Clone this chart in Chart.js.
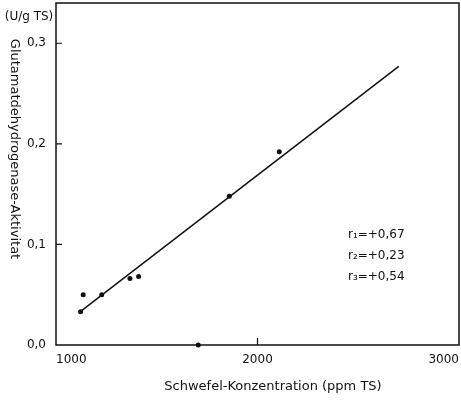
<!DOCTYPE html>
<html><head><meta charset="utf-8">
<script src="https://cdn.jsdelivr.net/npm/chart.js@4"></script>
<style>html,body{margin:0;padding:0;background:#fff}#wrap{width:461px;height:401px}</style>
</head><body><div id="wrap"><canvas id="c" width="461" height="401"></canvas></div>
<script>
// ---- data ----
const sulfurPpm   = [1122, 1135, 1227, 1367, 1410, 1706, 1860, 2108];
const gdhActivity = [0.033, 0.050, 0.050, 0.066, 0.068, 0.000, 0.148, 0.192];
const fitX = [1119, 2701];
const fitY = [0.033, 0.277];
const xTicks = [1000, 2000, 3000];
const yTicks = [0.0, 0.1, 0.2, 0.3];
const rLabels = ['r\u2081=+0,67', 'r\u2082=+0,23', 'r\u2083=+0,54'];
const xTitle = 'Schwefel-Konzentration (ppm TS)';
const yTitle = 'Glutamatdehydrogenase-Aktivitat';
const unitLabel = '(U/g TS)';

const FONT = '"DejaVu Sans", sans-serif';
const INK = '#111';
Chart.defaults.font.family = FONT;
Chart.defaults.font.size = 12;
Chart.defaults.color = INK;

const framePlugin = {
  id: 'frame',
  afterDraw(chart) {
    const {ctx, chartArea: a, scales: {x, y}} = chart;
    ctx.save();
    ctx.strokeStyle = INK;
    ctx.lineWidth = 1.5;
    ctx.strokeRect(a.left, a.top, a.right - a.left, a.bottom - a.top);
    ctx.lineWidth = 1.2;
    ctx.beginPath();
    yTicks.forEach(v => {
      if (v === 0) return;
      const py = y.getPixelForValue(v);
      ctx.moveTo(a.left, py); ctx.lineTo(a.left + 6, py);
    });
    xTicks.forEach(v => {
      const px = x.getPixelForValue(v);
      if (px <= a.left + 1 || px >= a.right - 1) return;
      ctx.moveTo(px, a.bottom); ctx.lineTo(px, a.bottom - 7);
    });
    ctx.stroke();

    ctx.fillStyle = INK;
    ctx.textAlign = 'center';
    ctx.textBaseline = 'middle';
    ctx.font = '13px ' + FONT;
    ctx.fillText(xTitle, a.left + 217, a.bottom + 42);
    ctx.save();
    ctx.translate(a.left - 42, a.top + 146);
    ctx.rotate(Math.PI / 2);
    ctx.fillText(yTitle, 0, 0);
    ctx.restore();
    ctx.font = '12px ' + FONT;
    ctx.fillText(unitLabel, a.left - 27, a.top + 14);
    ctx.textAlign = 'left';
    rLabels.forEach((t, i) => ctx.fillText(t, a.left + 292, a.top + 232 + i * 21));
    ctx.restore();
  }
};

new Chart(document.getElementById('c'), {
  type: 'scatter',
  data: {
    datasets: [
      {
        data: sulfurPpm.map((v, i) => ({x: v, y: gdhActivity[i]})),
        showLine: false,
        pointRadius: 2.5,
        pointBackgroundColor: INK,
        pointBorderWidth: 0,
        clip: false
      },
      {
        data: fitX.map((v, i) => ({x: v, y: fitY[i]})),
        showLine: true,
        borderColor: INK,
        borderWidth: 1.5,
        pointRadius: 0,
        fill: false
      }
    ]
  },
  plugins: [framePlugin],
  options: {
    responsive: false,
    animation: false,
    layout: {autoPadding: false, padding: {top: 3, right: 2, left: 0, bottom: 0}},
    plugins: {legend: {display: false}, tooltip: {enabled: false}},
    scales: {
      x: {
        type: 'linear', min: 1000, max: 3000,
        afterBuildTicks(s) { s.ticks = xTicks.map(v => ({value: v})); },
        afterFit(s) { s.height = 56; s.paddingLeft = 0; s.paddingRight = 0; },
        grid: {display: false, drawTicks: false},
        border: {display: false},
        ticks: {align: 'inner', padding: 8, callback: v => String(v), maxRotation: 0}
      },
      y: {
        type: 'linear', min: 0, max: 0.34,
        afterBuildTicks(s) { s.ticks = yTicks.map(v => ({value: v})); },
        afterFit(s) { s.width = 56; s.paddingTop = 0; s.paddingBottom = 0; },
        grid: {display: false, drawTicks: false},
        border: {display: false},
        ticks: {padding: 10, callback: v => Number(v).toFixed(1).replace('.', ',')}
      }
    }
  }
});
</script>
</body></html>
